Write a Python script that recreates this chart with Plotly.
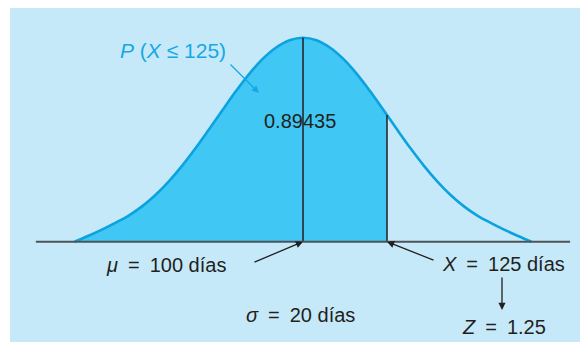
import plotly.graph_objects as go

# curve: days vs. height relative to the peak
days = [32, 36, 40, 44, 48, 52, 56, 60, 64, 68, 72, 76, 80, 84, 88, 92, 96, 100,
        104, 108, 112, 116, 120, 124, 125, 128, 132, 136, 140, 144, 148, 152, 156,
        160, 164, 168]
heights = [0.0, 0.028, 0.058, 0.091, 0.127, 0.172, 0.228, 0.295, 0.372, 0.458,
           0.550, 0.644, 0.737, 0.823, 0.896, 0.952, 0.988, 1.0, 0.988, 0.952,
           0.896, 0.823, 0.737, 0.644, 0.621, 0.550, 0.458, 0.372, 0.295, 0.228,
           0.172, 0.127, 0.091, 0.058, 0.028, 0.0]
mu = 100
x_val = 125
prob_text = "0.89435"

BG = "#C6E9F9"
FILL = "#40C7F3"
LINE = "#0AA3E0"
INK = "#231F20"
CYAN = "#16A8E2"
FONT = "Liberation Sans, Arial, sans-serif"
SP = "\u2002"  # wide space around "="

# the page body adds an 8px margin on every side, so the figure is
# sized to fit inside the window without overflowing
W, H = 572, 335
L, R, T, B = 2, 0, 0, 1
OFF = 8


def paper(x, y):
    """page pixel position -> paper coords"""
    x -= OFF
    y -= OFF
    return (x - L) / (W - L - R), (H - B - y) / (H - T - B)


cut = days.index(x_val)
fig = go.Figure()
fig.add_trace(go.Scatter(
    x=days[:cut + 1], y=heights[:cut + 1], mode="lines",
    line=dict(width=0, shape="spline"), fill="tozeroy", fillcolor=FILL,
    hoverinfo="skip",
))
fig.add_trace(go.Scatter(
    x=days, y=heights, mode="lines",
    line=dict(color=LINE, width=2.6, shape="spline"), hoverinfo="skip",
))
for v in (mu, x_val):
    fig.add_trace(go.Scatter(
        x=[v, v], y=[0, heights[days.index(v)]], mode="lines",
        line=dict(color=INK, width=1.5), hoverinfo="skip",
    ))

fig.add_shape(type="line", x0=20.5, x1=179.5, y0=0, y1=0,
              line=dict(color="#4D5359", width=2), layer="above")

annots = []


def label(text, x, y, color=INK, size=20, anchor="center"):
    px_, py_ = paper(x, y)
    annots.append(dict(text=text, x=px_, y=py_, xref="paper", yref="paper",
                       xanchor=anchor, yanchor="middle", showarrow=False,
                       font=dict(family=FONT, size=size, color=color)))


def arrow(x, y, ax, ay, color=INK, xref="x", yref="y"):
    annots.append(dict(text="", x=x, y=y, xref=xref, yref=yref, ax=ax, ay=ay,
                       showarrow=True, arrowhead=2, arrowsize=1.1,
                       arrowwidth=1.3, arrowcolor=color))


label("<i>P</i> (<i>X</i> ≤ 125)", 118, 50, color=CYAN, size=21, anchor="left")
label(prob_text, 300, 121)
label(f"<i>μ</i>{SP}={SP}100 días", 104, 265, anchor="left")
label(f"<i>σ</i>{SP}={SP}20 días", 244, 315, anchor="left")
label(f"<i>X</i>{SP}={SP}125 días", 440, 264, anchor="left")
label(f"<i>Z</i>{SP}={SP}1.25", 460, 327, anchor="left")

arrow(mu, 0, -50, 21)
arrow(x_val, 0, 48, 19)
zx, zy = paper(502, 310)
arrow(zx, zy, 0, -34, xref="paper", yref="paper")
arrow(86.9, 0.729, -30, -30, color=CYAN)

fig.update_layout(
    width=W, height=H, autosize=False,
    margin=dict(l=L, r=R, t=T, b=B, pad=0),
    paper_bgcolor="white", plot_bgcolor=BG,
    showlegend=False,
    annotations=annots,
    xaxis=dict(range=[12.80, 182.44], visible=False, fixedrange=True),
    yaxis=dict(range=[-0.4917, 1.1456], visible=False, fixedrange=True),
)

fig.write_html("out.html")
